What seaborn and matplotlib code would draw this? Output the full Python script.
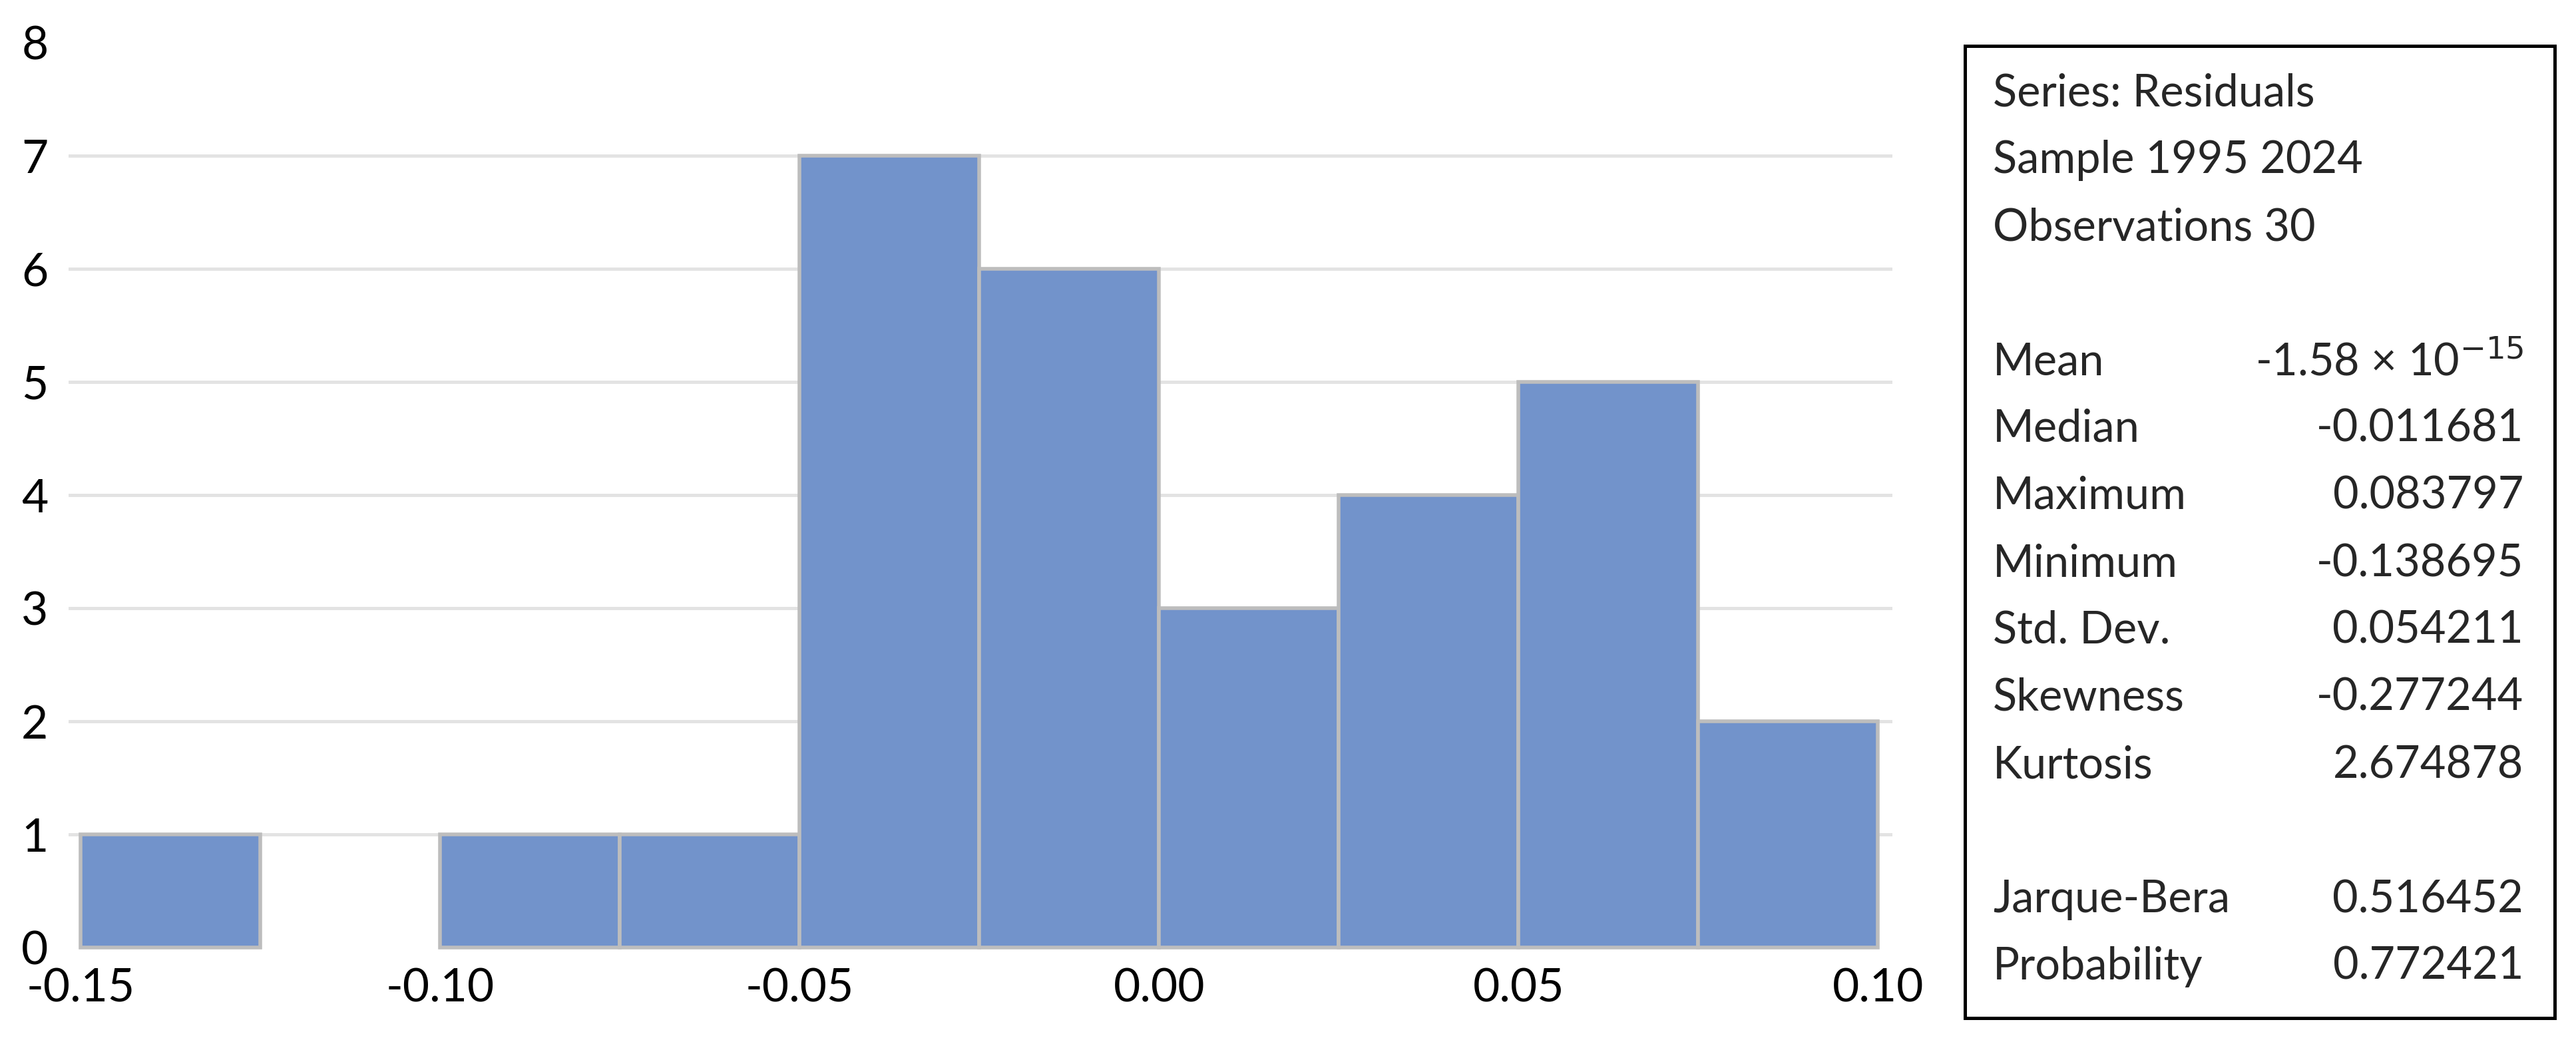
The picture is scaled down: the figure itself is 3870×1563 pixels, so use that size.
import matplotlib
matplotlib.use("Agg")
import matplotlib.pyplot as plt
import seaborn as sns
import numpy as np

# histogram of residuals (bin edges and counts)
bin_edges = [-0.15, -0.125, -0.10, -0.075, -0.05, -0.025, 0.0, 0.025, 0.05, 0.075, 0.10]
bin_counts = [1, 0, 1, 1, 7, 6, 3, 4, 5, 2]
x_ticks = [-0.15, -0.10, -0.05, 0.0, 0.05, 0.10]
x_tick_labels = ['-0.15', '-0.10', '-0.05', '0.00', '0.05', '0.10']
y_ticks = [0, 1, 2, 3, 4, 5, 6, 7, 8]

header_lines = ['Series: Residuals', 'Sample 1995 2024', 'Observations 30']
stat_names = ['Mean', 'Median', 'Maximum', 'Minimum', 'Std. Dev.', 'Skewness', 'Kurtosis']
stat_values = ['-1.58 \u00d7 10$^{\u221215}$', '-0.011681', '0.083797', '-0.138695',
               '0.054211', '-0.277244', '2.674878']
test_names = ['Jarque-Bera', 'Probability']
test_values = ['0.516452', '0.772421']

sns.set_theme(style='white')
plt.rcParams['font.family'] = ['Lato', 'DejaVu Sans']

bin_centers = [(a + b) / 2 for a, b in zip(bin_edges[:-1], bin_edges[1:])]

fig = plt.figure(figsize=(38.7, 15.63), dpi=100)
ax = fig.add_axes([0.0266, 0.0889, 0.708, 0.8701])

sns.histplot(x=bin_centers, weights=bin_counts, bins=bin_edges, ax=ax,
             color='#7293CB', edgecolor='#BDBDBD', linewidth=4, alpha=1, zorder=3)
for p in list(ax.patches):
    if p.get_height() == 0:
        p.remove()
    else:
        p.set_clip_on(False)

ax.set_xlim(-0.1517, 0.102)
ax.set_ylim(0, 8)
ax.set_xticks(x_ticks)
ax.set_xticklabels(x_tick_labels)
ax.set_yticks(y_ticks)
ax.tick_params(axis='both', labelsize=50, length=0, colors='black')
ax.tick_params(axis='x', pad=22)
ax.tick_params(axis='y', pad=22)
ax.set_xlabel('')
ax.set_ylabel('')
ax.yaxis.grid(True, color='#E3E3E3', linewidth=3.5, zorder=0)
ax.set_axisbelow(True)
gl = ax.get_ygridlines()
gl[0].set_visible(False)
gl[-1].set_visible(False)
for s in ax.spines.values():
    s.set_visible(False)

# statistics box
box = plt.Rectangle((0.7628, 0.0211), 0.2289, 0.9348, transform=fig.transFigure,
                    fill=False, edgecolor='black', linewidth=3.6)
fig.patches.append(box)

rows = header_lines + [''] + stat_names + [''] + test_names
vals = ['', '', '', ''] + stat_values + [''] + test_values
x_left = 2994 / 3870
x_right = 3791 / 3870
for i, (name, val) in enumerate(zip(rows, vals)):
    y = 1 - (140 + 101 * i) / 1563
    fig.text(x_left, y, name, fontsize=48, ha='left', va='center')
    if val:
        fig.text(x_right, y, val, fontsize=48, ha='right', va='center')

fig.savefig('out.png', dpi=100)
